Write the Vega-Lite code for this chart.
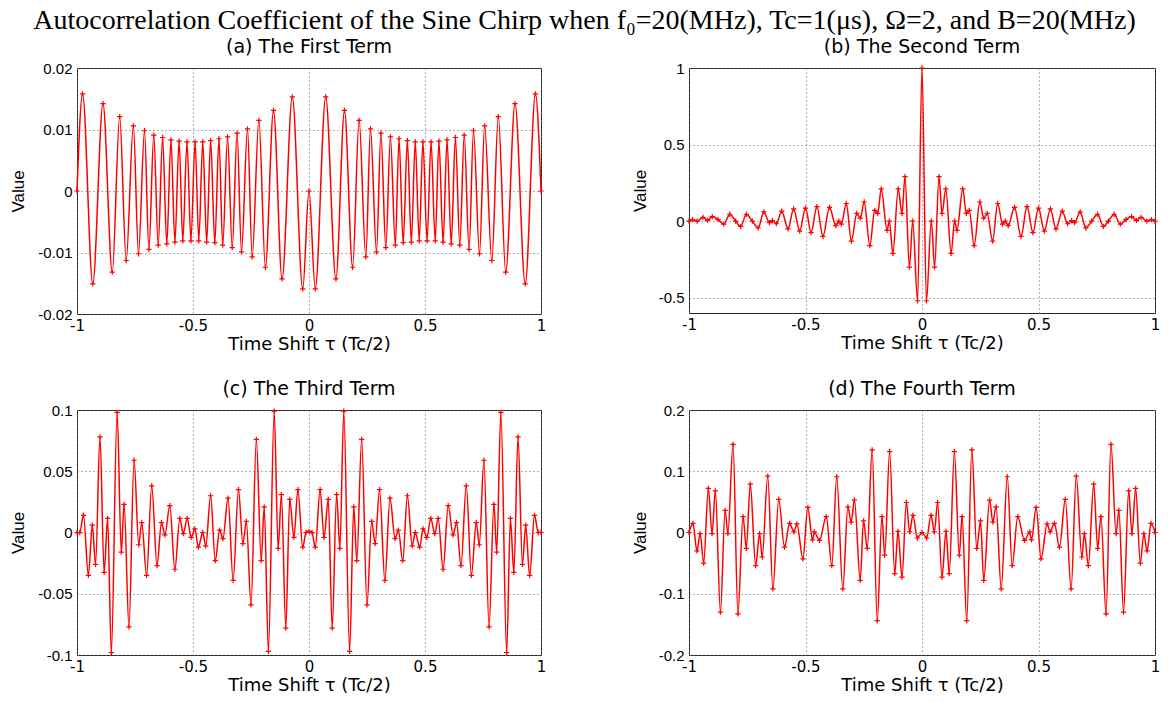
{
  "$schema": "https://vega.github.io/schema/vega-lite/v6.json",
  "padding": {"left": 8, "top": 6, "right": 5, "bottom": 2},
  "title": {"text": "Autocorrelation Coefficient of the Sine Chirp when f₀=20(MHz), Tc=1(μs), Ω=2, and B=20(MHz)", "font": "Liberation Serif", "fontSize": 28, "fontWeight": "normal", "anchor": "middle", "offset": 3, "color": "#000"},
  "config": {
    "font": "Liberation Sans",
    "view": {"stroke": "#262626", "strokeWidth": 1},
    "axis": {"labelFont": "Liberation Sans", "labelFontSize": 15, "labelColor": "#000", "titleFont": "Liberation Sans", "titleFontSize": 17, "titleFontWeight": "normal", "titleColor": "#000", "grid": true, "gridColor": "#666", "gridDash": [1, 3], "gridOpacity": 1, "domain": false, "ticks": false, "tickSize": 0, "labelPadding": 5},
    "axisX": {"labelFlush": false, "labelPadding": 4, "titlePadding": 2, "labelFont": "DejaVu Sans", "labelFontSize": 15, "titleFont": "DejaVu Sans", "titleFontSize": 18},
    "title": {"font": "DejaVu Sans", "fontSize": 19, "fontWeight": "normal", "color": "#000", "offset": 4}
  },
  "spacing": 25,
  "vconcat": [
    {
      "spacing": 83,
      "hconcat": [
        {
          "title": "(a) The First Term",
          "width": 464, "height": 246,
          "data": {"values": [
            {"t":-1,"v":0},{"t":-0.976,"v":0.0158},{"t":-0.932,"v":-0.0151},{"t":-0.888,"v":0.0142},{"t":-0.848,"v":-0.0132},{"t":-0.816,"v":0.0121},{"t":-0.788,"v":-0.0113},{"t":-0.757,"v":0.0106},{"t":-0.735,"v":-0.0102},{"t":-0.709,"v":0.0098},{"t":-0.69,"v":-0.0095},{"t":-0.669,"v":0.0091},{"t":-0.65,"v":-0.0088},{"t":-0.631,"v":0.0087},{"t":-0.613,"v":-0.0086},{"t":-0.595,"v":0.0083},{"t":-0.578,"v":-0.0083},{"t":-0.56,"v":0.0081},{"t":-0.544,"v":-0.0081},{"t":-0.526,"v":0.008},{"t":-0.509,"v":-0.0081},{"t":-0.491,"v":0.008},{"t":-0.475,"v":-0.0081},{"t":-0.458,"v":0.008},{"t":-0.441,"v":-0.0083},{"t":-0.424,"v":0.0082},{"t":-0.406,"v":-0.0084},{"t":-0.388,"v":0.0085},{"t":-0.372,"v":-0.0088},{"t":-0.351,"v":0.0088},{"t":-0.331,"v":-0.0092},{"t":-0.31,"v":0.0094},{"t":-0.291,"v":-0.0099},{"t":-0.265,"v":0.0101},{"t":-0.245,"v":-0.0107},{"t":-0.216,"v":0.0115},{"t":-0.188,"v":-0.0124},{"t":-0.153,"v":0.0131},{"t":-0.116,"v":-0.0143},{"t":-0.072,"v":0.0153},{"t":-0.027,"v":-0.0159},
            {"t":0,"v":0},
            {"t":0.027,"v":-0.0159},{"t":0.072,"v":0.0153},{"t":0.116,"v":-0.0143},{"t":0.153,"v":0.0131},{"t":0.188,"v":-0.0124},{"t":0.216,"v":0.0115},{"t":0.245,"v":-0.0107},{"t":0.265,"v":0.0101},{"t":0.291,"v":-0.0099},{"t":0.31,"v":0.0094},{"t":0.331,"v":-0.0092},{"t":0.351,"v":0.0088},{"t":0.372,"v":-0.0088},{"t":0.388,"v":0.0085},{"t":0.406,"v":-0.0084},{"t":0.424,"v":0.0082},{"t":0.441,"v":-0.0083},{"t":0.458,"v":0.008},{"t":0.475,"v":-0.0081},{"t":0.491,"v":0.008},{"t":0.509,"v":-0.0081},{"t":0.526,"v":0.008},{"t":0.544,"v":-0.0081},{"t":0.56,"v":0.0081},{"t":0.578,"v":-0.0083},{"t":0.595,"v":0.0083},{"t":0.613,"v":-0.0086},{"t":0.631,"v":0.0087},{"t":0.65,"v":-0.0088},{"t":0.669,"v":0.0091},{"t":0.69,"v":-0.0095},{"t":0.709,"v":0.0098},{"t":0.735,"v":-0.0102},{"t":0.757,"v":0.0106},{"t":0.788,"v":-0.0113},{"t":0.816,"v":0.0121},{"t":0.848,"v":-0.0132},{"t":0.888,"v":0.0142},{"t":0.932,"v":-0.0151},{"t":0.976,"v":0.0158},{"t":1,"v":0}
          ]},
          "encoding": {
            "x": {"field": "t", "type": "quantitative", "scale": {"domain": [-1, 1], "nice": false, "zero": false}, "axis": {"title": "Time Shift τ  (Tc/2)", "values": [-1, -0.5, 0, 0.5, 1], "labelExpr": "'' + datum.value"}},
            "y": {"field": "v", "type": "quantitative", "scale": {"domain": [-0.02, 0.02], "nice": false, "zero": false}, "axis": {"title": "Value", "values": [-0.02, -0.01, 0, 0.01, 0.02], "labelExpr": "'' + datum.value", "minExtent": 40, "maxExtent": 40, "titlePadding": 10}}
          },
          "layer": [
            {"mark": {"type": "line", "color": "#ff0000", "strokeWidth": 1.5, "interpolate": "monotone"}},
            {"mark": {"type": "point", "shape": "M-1,0L1,0M0,-1L0,1", "filled": false, "stroke": "#ff0000", "strokeWidth": 1.2, "size": 28, "opacity": 1}}
          ]
        },
        {
          "title": "(b) The Second Term",
          "width": 466, "height": 245,
          "data": {"values": [
            {"t":-1,"v":0},{"t":-0.985,"v":0.01},{"t":-0.965,"v":0},{"t":-0.94,"v":0.025},{"t":-0.92,"v":0.005},{"t":-0.9,"v":0.03},{"t":-0.875,"v":0.01},{"t":-0.851,"v":-0.02},{"t":-0.825,"v":0.045},{"t":-0.8,"v":0},{"t":-0.778,"v":-0.035},{"t":-0.754,"v":0.045},{"t":-0.728,"v":0},{"t":-0.703,"v":-0.045},{"t":-0.679,"v":0.06},{"t":-0.655,"v":-0.01},{"t":-0.642,"v":0.004},{"t":-0.625,"v":-0.017},{"t":-0.602,"v":0.065},{"t":-0.575,"v":-0.05},{"t":-0.551,"v":0.08},{"t":-0.525,"v":-0.065},{"t":-0.5,"v":0.085},{"t":-0.476,"v":-0.075},{"t":-0.451,"v":0.095},{"t":-0.425,"v":-0.1},{"t":-0.397,"v":0.09},{"t":-0.37,"v":-0.03},{"t":-0.357,"v":0},{"t":-0.346,"v":-0.02},{"t":-0.325,"v":0.115},{"t":-0.303,"v":-0.13},{"t":-0.28,"v":0.05},{"t":-0.265,"v":0.02},{"t":-0.248,"v":0.125},{"t":-0.224,"v":-0.16},{"t":-0.203,"v":0.07},{"t":-0.19,"v":0.05},{"t":-0.175,"v":0.21},{"t":-0.15,"v":-0.06},{"t":-0.14,"v":0},{"t":-0.125,"v":-0.21},{"t":-0.102,"v":0.21},{"t":-0.086,"v":0.05},{"t":-0.073,"v":0.29},{"t":-0.054,"v":-0.3},{"t":-0.04,"v":0},{"t":-0.019,"v":-0.52},
            {"t":0,"v":1},
            {"t":0.019,"v":-0.52},{"t":0.04,"v":0},{"t":0.054,"v":-0.3},{"t":0.073,"v":0.29},{"t":0.086,"v":0.05},{"t":0.102,"v":0.21},{"t":0.125,"v":-0.21},{"t":0.14,"v":0},{"t":0.15,"v":-0.06},{"t":0.175,"v":0.21},{"t":0.19,"v":0.05},{"t":0.203,"v":0.07},{"t":0.224,"v":-0.16},{"t":0.248,"v":0.125},{"t":0.265,"v":0.02},{"t":0.28,"v":0.05},{"t":0.303,"v":-0.13},{"t":0.325,"v":0.115},{"t":0.346,"v":-0.02},{"t":0.357,"v":0},{"t":0.37,"v":-0.03},{"t":0.397,"v":0.09},{"t":0.425,"v":-0.1},{"t":0.451,"v":0.095},{"t":0.476,"v":-0.075},{"t":0.5,"v":0.085},{"t":0.525,"v":-0.065},{"t":0.551,"v":0.08},{"t":0.575,"v":-0.05},{"t":0.602,"v":0.065},{"t":0.625,"v":-0.017},{"t":0.642,"v":0.004},{"t":0.655,"v":-0.01},{"t":0.679,"v":0.06},{"t":0.703,"v":-0.045},{"t":0.728,"v":0},{"t":0.754,"v":0.045},{"t":0.778,"v":-0.035},{"t":0.8,"v":0},{"t":0.825,"v":0.045},{"t":0.851,"v":-0.02},{"t":0.875,"v":0.01},{"t":0.9,"v":0.03},{"t":0.92,"v":0.005},{"t":0.94,"v":0.025},{"t":0.965,"v":0},{"t":0.985,"v":0.01},{"t":1,"v":0}
          ]},
          "encoding": {
            "x": {"field": "t", "type": "quantitative", "scale": {"domain": [-1, 1], "nice": false, "zero": false}, "axis": {"title": "Time Shift τ  (Tc/2)", "values": [-1, -0.5, 0, 0.5, 1], "labelExpr": "'' + datum.value"}},
            "y": {"field": "v", "type": "quantitative", "scale": {"domain": [-0.6, 1], "nice": false, "zero": false}, "axis": {"title": "Value", "values": [-0.5, 0, 0.5, 1], "labelExpr": "'' + datum.value", "minExtent": 31, "maxExtent": 31, "titlePadding": 9}}
          },
          "layer": [
            {"mark": {"type": "line", "color": "#ff0000", "strokeWidth": 1.5, "interpolate": "monotone"}},
            {"mark": {"type": "point", "shape": "M-1,0L1,0M0,-1L0,1", "filled": false, "stroke": "#ff0000", "strokeWidth": 1.2, "size": 28, "opacity": 1}}
          ]
        }
      ]
    },
    {
      "spacing": 83,
      "hconcat": [
        {
          "title": "(c) The Third Term",
          "width": 464, "height": 245,
          "data": {"values": [
            {"t":-1,"v":0},{"t":-0.988,"v":0},{"t":-0.972,"v":0.014},{"t":-0.951,"v":-0.035},{"t":-0.934,"v":0.006},{"t":-0.92,"v":-0.026},{"t":-0.901,"v":0.078},{"t":-0.883,"v":-0.0325},{"t":-0.868,"v":0.0115},{"t":-0.852,"v":-0.098},{"t":-0.827,"v":0.098},{"t":-0.809,"v":-0.016},{"t":-0.797,"v":0.023},{"t":-0.776,"v":-0.077},{"t":-0.754,"v":0.059},{"t":-0.734,"v":-0.01},{"t":-0.721,"v":0.008},{"t":-0.7,"v":-0.035},{"t":-0.678,"v":0.038},{"t":-0.655,"v":-0.027},{"t":-0.636,"v":0.008},{"t":-0.621,"v":-0.002},{"t":-0.6,"v":0.022},{"t":-0.578,"v":-0.03},{"t":-0.557,"v":0.0115},{"t":-0.542,"v":-0.001},{"t":-0.525,"v":0.0115},{"t":-0.508,"v":-0.004},{"t":-0.492,"v":0.003},{"t":-0.477,"v":-0.012},{"t":-0.458,"v":0},{"t":-0.445,"v":-0.011},{"t":-0.424,"v":0.03},{"t":-0.404,"v":-0.023},{"t":-0.385,"v":0.002},{"t":-0.371,"v":-0.005},{"t":-0.349,"v":0.028},{"t":-0.327,"v":-0.039},{"t":-0.304,"v":0.035},{"t":-0.285,"v":-0.009},{"t":-0.27,"v":0.009},{"t":-0.25,"v":-0.059},{"t":-0.227,"v":0.076},{"t":-0.206,"v":-0.023},{"t":-0.193,"v":0.021},{"t":-0.175,"v":-0.097},{"t":-0.15,"v":0.099},{"t":-0.133,"v":-0.013},{"t":-0.119,"v":0.031},{"t":-0.1,"v":-0.078},{"t":-0.083,"v":0.027},{"t":-0.065,"v":-0.004},{"t":-0.048,"v":0.035},{"t":-0.027,"v":-0.012},{"t":-0.013,"v":0},
            {"t":0,"v":0.001},
            {"t":0.013,"v":0},{"t":0.027,"v":-0.012},{"t":0.048,"v":0.035},{"t":0.065,"v":-0.004},{"t":0.083,"v":0.027},{"t":0.1,"v":-0.078},{"t":0.119,"v":0.031},{"t":0.133,"v":-0.013},{"t":0.15,"v":0.099},{"t":0.175,"v":-0.097},{"t":0.193,"v":0.021},{"t":0.206,"v":-0.023},{"t":0.227,"v":0.076},{"t":0.25,"v":-0.059},{"t":0.27,"v":0.009},{"t":0.285,"v":-0.009},{"t":0.304,"v":0.035},{"t":0.327,"v":-0.039},{"t":0.349,"v":0.028},{"t":0.371,"v":-0.005},{"t":0.385,"v":0.002},{"t":0.404,"v":-0.023},{"t":0.424,"v":0.03},{"t":0.445,"v":-0.011},{"t":0.458,"v":0},{"t":0.477,"v":-0.012},{"t":0.492,"v":0.003},{"t":0.508,"v":-0.004},{"t":0.525,"v":0.0115},{"t":0.542,"v":-0.001},{"t":0.557,"v":0.0115},{"t":0.578,"v":-0.03},{"t":0.6,"v":0.022},{"t":0.621,"v":-0.002},{"t":0.636,"v":0.008},{"t":0.655,"v":-0.027},{"t":0.678,"v":0.038},{"t":0.7,"v":-0.035},{"t":0.721,"v":0.008},{"t":0.734,"v":-0.01},{"t":0.754,"v":0.059},{"t":0.776,"v":-0.077},{"t":0.797,"v":0.023},{"t":0.809,"v":-0.016},{"t":0.827,"v":0.098},{"t":0.852,"v":-0.098},{"t":0.868,"v":0.0115},{"t":0.883,"v":-0.0325},{"t":0.901,"v":0.078},{"t":0.92,"v":-0.026},{"t":0.934,"v":0.006},{"t":0.951,"v":-0.035},{"t":0.972,"v":0.014},{"t":0.988,"v":0},{"t":1,"v":0}
          ]},
          "encoding": {
            "x": {"field": "t", "type": "quantitative", "scale": {"domain": [-1, 1], "nice": false, "zero": false}, "axis": {"title": "Time Shift τ  (Tc/2)", "values": [-1, -0.5, 0, 0.5, 1], "labelExpr": "'' + datum.value"}},
            "y": {"field": "v", "type": "quantitative", "scale": {"domain": [-0.1, 0.1], "nice": false, "zero": false}, "axis": {"title": "Value", "values": [-0.1, -0.05, 0, 0.05, 0.1], "labelExpr": "'' + datum.value", "minExtent": 40, "maxExtent": 40, "titlePadding": 10}}
          },
          "layer": [
            {"mark": {"type": "line", "color": "#ff0000", "strokeWidth": 1.5, "interpolate": "monotone"}},
            {"mark": {"type": "point", "shape": "M-1,0L1,0M0,-1L0,1", "filled": false, "stroke": "#ff0000", "strokeWidth": 1.2, "size": 28, "opacity": 1}}
          ]
        },
        {
          "title": "(d) The Fourth Term",
          "width": 466, "height": 245,
          "data": {"values": [
            {"t":-1,"v":0},{"t":-0.983,"v":0.015},{"t":-0.966,"v":-0.03},{"t":-0.952,"v":-0.002},{"t":-0.937,"v":-0.05},{"t":-0.917,"v":0.072},{"t":-0.901,"v":-0.002},{"t":-0.887,"v":0.068},{"t":-0.865,"v":-0.13},{"t":-0.845,"v":0.036},{"t":-0.833,"v":-0.002},{"t":-0.811,"v":0.144},{"t":-0.79,"v":-0.133},{"t":-0.768,"v":0.026},{"t":-0.754,"v":-0.026},{"t":-0.737,"v":0.079},{"t":-0.714,"v":-0.054},{"t":-0.697,"v":-0.002},{"t":-0.686,"v":-0.04},{"t":-0.662,"v":0.092},{"t":-0.64,"v":-0.092},{"t":-0.615,"v":0.054},{"t":-0.59,"v":-0.024},{"t":-0.568,"v":0.015},{"t":-0.55,"v":0.001},{"t":-0.537,"v":0.014},{"t":-0.511,"v":-0.043},{"t":-0.49,"v":0.041},{"t":-0.47,"v":-0.012},{"t":-0.462,"v":0.001},{"t":-0.44,"v":-0.013},{"t":-0.411,"v":0.026},{"t":-0.387,"v":-0.054},{"t":-0.366,"v":0.091},{"t":-0.34,"v":-0.092},{"t":-0.318,"v":0.042},{"t":-0.304,"v":0.017},{"t":-0.29,"v":0.053},{"t":-0.265,"v":-0.078},{"t":-0.251,"v":0.019},{"t":-0.235,"v":-0.026},{"t":-0.214,"v":0.135},{"t":-0.192,"v":-0.144},{"t":-0.172,"v":0.026},{"t":-0.16,"v":-0.037},{"t":-0.139,"v":0.132},{"t":-0.117,"v":-0.067},{"t":-0.103,"v":0.002},{"t":-0.086,"v":-0.073},{"t":-0.067,"v":0.049},{"t":-0.053,"v":0.001},{"t":-0.039,"v":0.028},{"t":-0.02,"v":-0.009},
            {"t":0,"v":0},
            {"t":0.02,"v":-0.009},{"t":0.039,"v":0.028},{"t":0.053,"v":0.001},{"t":0.067,"v":0.049},{"t":0.086,"v":-0.073},{"t":0.103,"v":0.002},{"t":0.117,"v":-0.067},{"t":0.139,"v":0.132},{"t":0.16,"v":-0.037},{"t":0.172,"v":0.026},{"t":0.192,"v":-0.144},{"t":0.214,"v":0.135},{"t":0.235,"v":-0.026},{"t":0.251,"v":0.019},{"t":0.265,"v":-0.078},{"t":0.29,"v":0.053},{"t":0.304,"v":0.017},{"t":0.318,"v":0.042},{"t":0.34,"v":-0.092},{"t":0.366,"v":0.091},{"t":0.387,"v":-0.054},{"t":0.411,"v":0.026},{"t":0.44,"v":-0.013},{"t":0.462,"v":0.001},{"t":0.47,"v":-0.012},{"t":0.49,"v":0.041},{"t":0.511,"v":-0.043},{"t":0.537,"v":0.014},{"t":0.55,"v":0.001},{"t":0.568,"v":0.015},{"t":0.59,"v":-0.024},{"t":0.615,"v":0.054},{"t":0.64,"v":-0.092},{"t":0.662,"v":0.092},{"t":0.686,"v":-0.04},{"t":0.697,"v":-0.002},{"t":0.714,"v":-0.054},{"t":0.737,"v":0.079},{"t":0.754,"v":-0.026},{"t":0.768,"v":0.026},{"t":0.79,"v":-0.133},{"t":0.811,"v":0.144},{"t":0.833,"v":-0.002},{"t":0.845,"v":0.036},{"t":0.865,"v":-0.13},{"t":0.887,"v":0.068},{"t":0.901,"v":-0.002},{"t":0.917,"v":0.072},{"t":0.937,"v":-0.05},{"t":0.952,"v":-0.002},{"t":0.966,"v":-0.03},{"t":0.983,"v":0.015},{"t":1,"v":0}
          ]},
          "encoding": {
            "x": {"field": "t", "type": "quantitative", "scale": {"domain": [-1, 1], "nice": false, "zero": false}, "axis": {"title": "Time Shift τ  (Tc/2)", "values": [-1, -0.5, 0, 0.5, 1], "labelExpr": "'' + datum.value"}},
            "y": {"field": "v", "type": "quantitative", "scale": {"domain": [-0.2, 0.2], "nice": false, "zero": false}, "axis": {"title": "Value", "values": [-0.2, -0.1, 0, 0.1, 0.2], "labelExpr": "'' + datum.value", "minExtent": 31, "maxExtent": 31, "titlePadding": 9}}
          },
          "layer": [
            {"mark": {"type": "line", "color": "#ff0000", "strokeWidth": 1.5, "interpolate": "monotone"}},
            {"mark": {"type": "point", "shape": "M-1,0L1,0M0,-1L0,1", "filled": false, "stroke": "#ff0000", "strokeWidth": 1.2, "size": 28, "opacity": 1}}
          ]
        }
      ]
    }
  ]
}
